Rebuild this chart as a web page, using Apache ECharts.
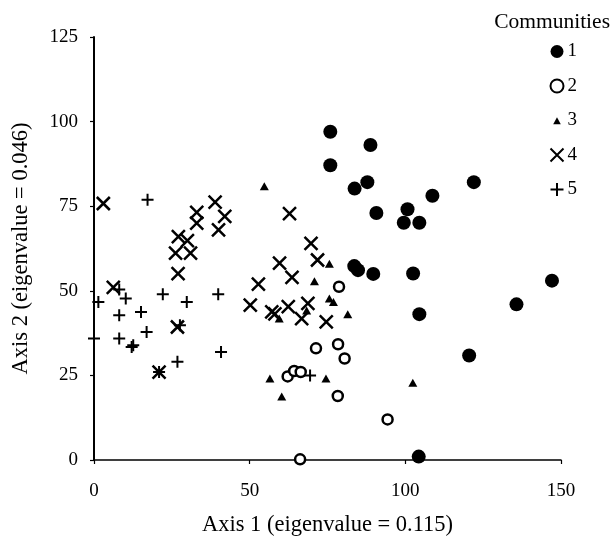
<!DOCTYPE html>
<html>
<head>
<meta charset="utf-8">
<script src="https://cdn.jsdelivr.net/npm/echarts@6/dist/echarts.min.js"></script>
<style>
  html, body { margin: 0; padding: 0; background: #fff; }
  #main { width: 615px; height: 545px; }
</style>
</head>
<body>
<div id="main"></div>
<script>
// points, [axis1, axis2]
const community1 = [[75.9,97.0],[88.8,93.1],[75.9,87.1],[83.7,80.2],[87.8,82.1],[122.0,82.1],[108.7,78.1],[90.7,73.0],[100.7,74.1],[99.5,70.1],[104.5,70.1],[83.6,57.3],[84.8,56.1],[89.7,55.0],[102.5,55.1],[147.1,53.0],[135.7,46.0],[104.5,43.1],[120.5,30.9],[104.3,1.0]]
const community2 = [[78.7,51.2],[71.3,33.0],[78.4,34.2],[80.5,30.0],[62.2,24.7],[64.3,26.3],[66.4,26.0],[78.3,18.9],[94.3,12.0],[66.2,0.2]]
const community3 = [[54.7,80.9],[75.6,58.0],[70.8,52.8],[75.6,47.7],[76.9,46.7],[81.5,43.1],[59.5,41.8],[68.3,44.2],[56.5,24.1],[60.3,18.8],[74.5,24.1],[102.4,22.8]]
const community4 = [[3.0,75.8],[38.9,76.2],[33.0,73.2],[42.0,72.0],[33.0,70.0],[40.0,68.0],[27.1,66.0],[30.0,64.8],[26.2,61.1],[31.0,61.1],[27.0,55.1],[6.2,51.0],[26.8,39.3],[20.9,26.0],[62.8,72.8],[69.7,64.0],[71.8,59.1],[59.6,58.2],[63.6,54.0],[52.8,52.0],[50.2,45.8],[57.1,43.8],[58.1,43.2],[62.4,45.3],[68.7,46.3],[66.7,41.8],[74.6,40.8]]
const community5 = [[17.2,76.9],[1.4,46.7],[0.0,35.9],[8.1,50.4],[10.2,47.7],[8.1,42.8],[15.1,43.7],[22.1,49.0],[29.8,46.7],[39.9,49.0],[16.9,37.8],[8.1,35.9],[12.1,33.4],[12.6,33.9],[27.6,39.8],[20.9,26.0],[26.8,29.0],[40.8,31.9],[69.4,25.0]]
const communityNames = ['1', '2', '3', '4', '5']

const serif = "'Liberation Serif', 'Times New Roman', serif"
const crossPath = 'path://M0,0L10,10M10,0L0,10'
const plusPath = 'path://M5,0L5,10M0,5L10,5'
const smallTriangle = 'path://M0,0M12,12M2.5,9.5L6,3L9.5,9.5Z'

const chart = echarts.init(document.getElementById('main'))

const option = {
  animation: false,
  backgroundColor: '#fff',
  textStyle: { fontFamily: serif, color: '#000' },
  title: {
    text: 'Communities',
    right: 0,
    top: 6,
    textStyle: { fontFamily: serif, fontSize: 21.5, fontWeight: 'normal', color: '#000' }
  },
  legend: {
    orient: 'vertical',
    left: 543,
    top: 37,
    itemWidth: 15,
    itemHeight: 13,
    itemGap: 15.5,
    textStyle: { fontFamily: serif, fontSize: 19, color: '#000', padding: [0, 0, 0, -2] },
    data: [
      { name: '1' },
      { name: '2' },
      { name: '3', icon: smallTriangle },
      { name: '4' },
      { name: '5' }
    ]
  },
  grid: { left: 94, right: 54, top: 37, bottom: 85 },
  xAxis: {
    type: 'value',
    min: 0, max: 150, interval: 50,
    name: 'Axis 1 (eigenvalue = 0.115)',
    nameLocation: 'middle',
    nameGap: 54,
    nameTextStyle: { fontFamily: serif, fontSize: 22.5, color: '#000' },
    axisLine: { lineStyle: { color: '#000', width: 1.5 } },
    axisTick: { length: 4, lineStyle: { color: '#000', width: 1.2 } },
    axisLabel: { fontFamily: serif, fontSize: 19, color: '#000', margin: 22 },
    splitLine: { show: false }
  },
  yAxis: {
    type: 'value',
    min: 0, max: 125, interval: 25,
    name: 'Axis 2 (eigenvalue = 0.046)',
    nameLocation: 'middle',
    nameGap: 61,
    nameTextStyle: { fontFamily: serif, fontSize: 22.5, color: '#000' },
    axisLine: { lineStyle: { color: '#000', width: 2 } },
    axisTick: { length: 4, lineStyle: { color: '#000', width: 1.2 } },
    axisLabel: { fontFamily: serif, fontSize: 19, color: '#000', margin: 16 },
    splitLine: { show: false }
  },
  series: [
    {
      name: communityNames[0], type: 'scatter', data: community1,
      symbol: 'circle', symbolSize: 14,
      itemStyle: { color: '#000', opacity: 1 }
    },
    {
      name: communityNames[1], type: 'scatter', data: community2,
      symbol: 'circle', symbolSize: 10,
      itemStyle: { color: '#fff', borderColor: '#000', borderWidth: 2.5, opacity: 1 }
    },
    {
      name: communityNames[2], type: 'scatter', data: community3,
      symbol: 'triangle', symbolSize: [9, 8],
      itemStyle: { color: '#000', opacity: 1 }
    },
    {
      name: communityNames[3], type: 'scatter', data: community4,
      symbol: crossPath, symbolSize: 13,
      itemStyle: { color: 'none', borderColor: '#000', borderWidth: 2.5, opacity: 1 }
    },
    {
      name: communityNames[4], type: 'scatter', data: community5,
      symbol: plusPath, symbolSize: 12,
      itemStyle: { color: 'none', borderColor: '#000', borderWidth: 2, opacity: 1 }
    }
  ]
}

chart.setOption(option)
</script>
</body>
</html>
